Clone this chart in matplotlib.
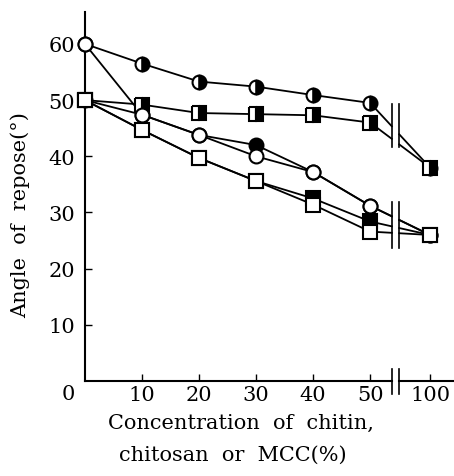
import numpy as np
import matplotlib
matplotlib.use("Agg")
import matplotlib.pyplot as plt

plt.rcParams['font.family'] = ['DejaVu Serif']

# concentration (%) and angle of repose (deg)
conc = [0, 10, 20, 30, 40, 50, 100]
half_circle = [60, 56.5, 53.3, 52.4, 50.9, 49.5, 38]
half_square = [50, 49.2, 47.7, 47.5, 47.3, 46.0, 38]
open_circle = [60, 47.4, 43.8, 40.0, 37.2, 31.2, 26]
filled_circle = [50, 47.4, 43.8, 42.0, 37.2, 31.2, 26]
open_square = [50, 44.7, 39.7, 35.6, 31.4, 26.6, 26]
filled_square = [50, 44.7, 39.7, 35.6, 32.5, 28.4, 26]

xtick_labels = ['10', '20', '30', '40', '50', '100']
yticks = [10, 20, 30, 40, 50, 60]

# broken x axis: 100 % is drawn just past the break
pos_100 = 60.5
brk = (53.8, 55.1)


def xpos(c):
    return [c_ if c_ <= 50 else pos_100 for c_ in c]


fig = plt.figure(figsize=(4.54, 4.77), dpi=100)
ax = fig.add_axes([0.187, 0.199, 0.813, 0.774])

lw = 1.3


def series(y, marker, fs, face='white', alt='black'):
    x = xpos(conc)
    xa = np.array(x[:-1] + [brk[0]])
    ya = np.array(y[:-1] + [np.interp(brk[0], x[-2:], y[-2:])])
    ax.plot(xa, ya, color='black', lw=lw, zorder=2)
    ax.plot([brk[1], x[-1]], [np.interp(brk[1], x[-2:], y[-2:]), y[-1]],
            color='black', lw=lw, zorder=2)
    ax.plot(x, y, linestyle='none', marker=marker, ms=10, mec='black',
            mew=1.5, fillstyle=fs, mfc=face, mfcalt=alt, zorder=3,
            clip_on=False)


series(filled_square, 's', 'full', face='black')
series(filled_circle, 'o', 'full', face='black')
series(half_circle, 'o', 'left')
series(half_square, 's', 'left')
series(open_circle, 'o', 'full')
series(open_square, 's', 'full')

# break marks
for b in brk:
    ax.plot([b, b], [41.6, 49.3], color='black', lw=1.2, zorder=4)
    ax.plot([b, b], [23.7, 31.9], color='black', lw=1.2, zorder=4)
    ax.plot([b, b], [-2.3, 2.1], color='black', lw=1.2, zorder=4,
            clip_on=False)

ax.set_xlim(0, 64.7)
ax.set_ylim(0, 65.7)

for s in ['top', 'right', 'bottom']:
    ax.spines[s].set_visible(False)
ax.spines['left'].set_linewidth(1.5)
ax.plot([0, brk[0]], [0, 0], color='black', lw=1.5, clip_on=False)
ax.plot([brk[1], 64.7], [0, 0], color='black', lw=1.5, clip_on=False)

ax.set_xticks(xpos([10, 20, 30, 40, 50, 100]))
ax.set_xticklabels(xtick_labels)
ax.set_yticks(yticks)
ax.tick_params(direction='in', length=5, width=1, labelsize=15, pad=3)
ax.tick_params(axis='y', pad=7)

ax.annotate('0', (0, 0), xytext=(-12, -9), textcoords='offset points',
            ha='center', va='center', fontsize=15)

fig.text(0.044, 1 - 215 / 477, 'Angle  of  repose(°)', rotation=90,
         ha='center', va='center', fontsize=15)
fig.text(241 / 454, 1 - 423 / 477, 'Concentration  of  chitin,',
         ha='center', va='center', fontsize=15)
fig.text(233 / 454, 1 - 455 / 477, 'chitosan  or  MCC(%)',
         ha='center', va='center', fontsize=15)

fig.savefig('out.png', dpi=100)
